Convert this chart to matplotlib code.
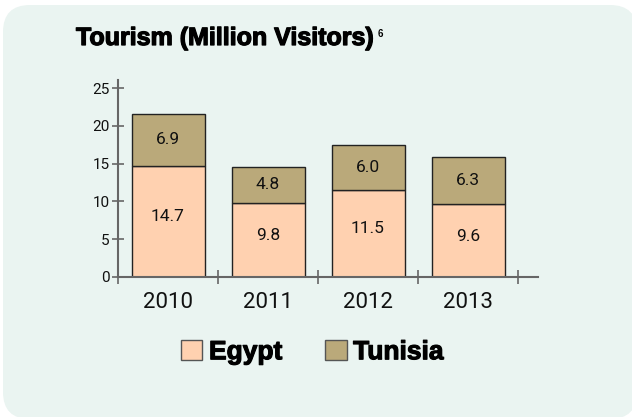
import matplotlib
matplotlib.use("Agg")
import matplotlib.pyplot as plt
import matplotlib.patheffects as pe
from matplotlib.patches import FancyBboxPatch, Patch

plt.rcParams['font.family'] = ['Roboto', 'DejaVu Sans']

# --- data ---
years = ['2010', '2011', '2012', '2013']
egypt = [14.7, 9.8, 11.5, 9.6]
tunisia = [6.9, 4.8, 6.0, 6.3]
y_ticks = [0, 5, 10, 15, 20, 25]

EGYPT_COL = '#FFD1B0'
TUNISIA_COL = '#BAA97A'
BG_COL = '#EAF4F1'
AXIS_COL = '#666666'
HEAVY = 'Liberation Sans'

W, H = 632, 417
fig = plt.figure(figsize=(W / 100, H / 100), dpi=100)
fig.patch.set_facecolor('white')

# --- rounded background card (pixel coords) ---
bg = fig.add_axes([0, 0, 1, 1])
bg.set_xlim(0, W)
bg.set_ylim(H, 0)
bg.axis('off')
r = 27
bg.add_patch(FancyBboxPatch((3 + r, 5 + r), 637 - 3 - 2 * r, 419 - 5 - 2 * r,
                            boxstyle=f'round,pad={r}', fc=BG_COL, ec='none'))

# --- chart axes ---
left, right, top, bottom = 118, 538, 80, 277
ax = fig.add_axes([left / W, (H - bottom) / H, (right - left) / W, (bottom - top) / H])
ax.patch.set_alpha(0)

x = list(range(len(years)))
ax.bar(x, egypt, width=0.73, color=EGYPT_COL, edgecolor='#222222', lw=1, zorder=2)
ax.bar(x, tunisia, width=0.73, bottom=egypt, color=TUNISIA_COL, edgecolor='#222222', lw=1, zorder=2)

# value labels inside each segment
for i in x:
    ax.text(i, egypt[i] / 2 + 0.6, f'{egypt[i]:.1f}', ha='center', va='center', fontsize=12.5, color='#111111')
    ax.text(i, egypt[i] + tunisia[i] / 2, f'{tunisia[i]:.1f}', ha='center', va='center', fontsize=12.5, color='#111111')

ax.set_xlim(-0.5, 3.7)
ax.set_ylim(0, 26.06)

for s in ['top', 'right']:
    ax.spines[s].set_visible(False)
for s in ['left', 'bottom']:
    ax.spines[s].set_color(AXIS_COL)
    ax.spines[s].set_linewidth(1.5)
    ax.spines[s].set_zorder(3)

ax.set_yticks(y_ticks)
ax.tick_params(axis='y', direction='inout', length=8, width=1.2, color=AXIS_COL,
               labelsize=11, pad=2, labelcolor='#111111')

ax.set_xticks(x)
ax.set_xticklabels(years)
ax.set_xticks([-0.5, 0.5, 1.5, 2.5, 3.5], minor=True)
ax.tick_params(axis='x', which='major', length=0, labelsize=16, pad=11, labelcolor='#111111')
ax.tick_params(axis='x', which='minor', direction='inout', length=9.5, width=1.2, color=AXIS_COL)

# --- title ---
thick = [pe.withStroke(linewidth=0.9, foreground='black')]
fig.text(76 / W, (H - 45) / H, 'Tourism (Million Visitors)', fontsize=18, fontweight='bold',
         family=HEAVY, ha='left', va='baseline', color='black', path_effects=thick)
fig.text(378 / W, (H - 37) / H, '6', fontsize=7, fontweight='bold', family=HEAVY,
         ha='left', va='baseline')

# --- legend ---
handles = [Patch(fc=EGYPT_COL, ec='#555555', lw=1, label='Egypt'),
           Patch(fc=TUNISIA_COL, ec='#555555', lw=1, label='Tunisia')]
leg = fig.legend(handles=handles, loc='center', bbox_to_anchor=(312 / W, (H - 352) / H), ncol=2,
                 frameon=False, handlelength=0.83, handleheight=0.83, handletextpad=0.25,
                 columnspacing=1.6, prop={'size': 19, 'weight': 'bold', 'family': HEAVY})
for t in leg.get_texts():
    t.set_path_effects([pe.withStroke(linewidth=0.8, foreground='black')])

fig.savefig('out.png', dpi=100, facecolor=fig.get_facecolor())
